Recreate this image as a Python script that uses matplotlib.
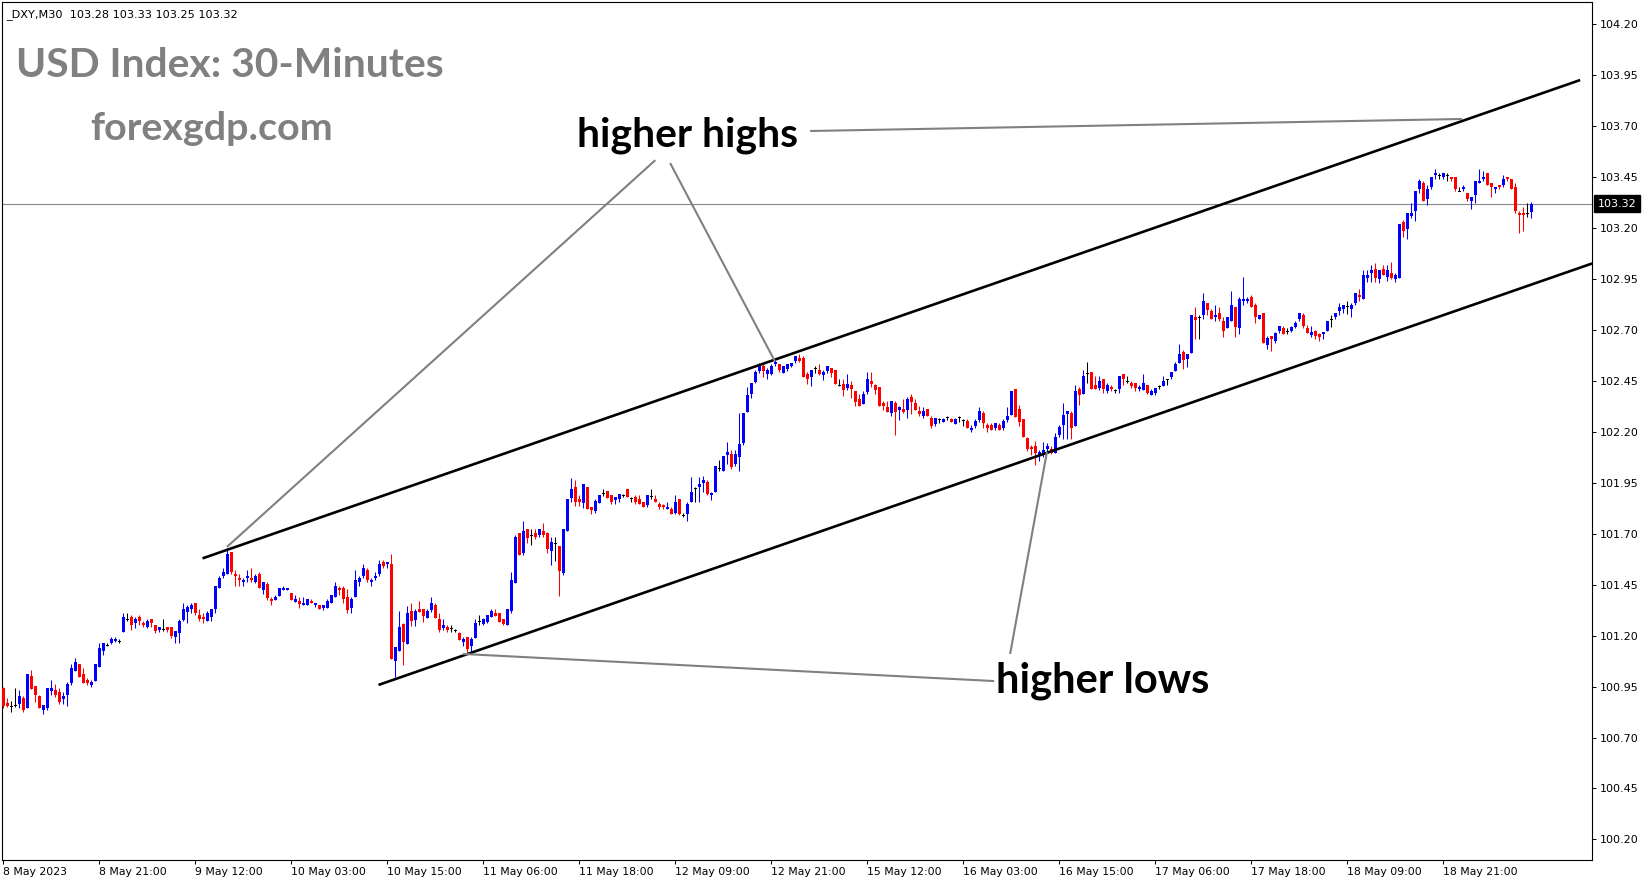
import matplotlib
matplotlib.use("Agg")
import matplotlib.pyplot as plt
from matplotlib.transforms import blended_transform_factory
import numpy as np

# ---------------- data (DXY, M30) ----------------
opens = [
    100.943, 100.868, 100.851, 100.858, 100.864, 100.894, 100.845, 101.002, 100.953, 100.904,
    100.835, 100.845, 100.930, 100.933, 100.923, 100.890, 100.910, 100.969, 101.028, 101.061,
    101.012, 100.982, 100.959, 100.979, 101.048, 101.126, 101.152, 101.162, 101.172, 101.172,
    101.218, 101.280, 101.290, 101.260, 101.290, 101.260, 101.241, 101.280, 101.250, 101.227,
    101.231, 101.241, 101.241, 101.191, 101.211, 101.277, 101.316, 101.329, 101.358, 101.299,
    101.290, 101.270, 101.289, 101.329, 101.433, 101.492, 101.502, 101.610, 101.502, 101.483,
    101.463, 101.483, 101.483, 101.463, 101.502, 101.424, 101.453, 101.378, 101.375, 101.394,
    101.424, 101.424, 101.407, 101.365, 101.368, 101.348, 101.348, 101.368, 101.348, 101.348,
    101.335, 101.335, 101.358, 101.388, 101.433, 101.433, 101.388, 101.335, 101.388, 101.463,
    101.492, 101.522, 101.463, 101.483, 101.502, 101.561, 101.551, 101.551, 101.077, 101.126,
    101.257, 101.159, 101.323, 101.277, 101.329, 101.329, 101.287, 101.326, 101.349, 101.280,
    101.237, 101.244, 101.237, 101.224, 101.215, 101.169, 101.195, 101.149, 101.188, 101.270,
    101.257, 101.267, 101.290, 101.313, 101.313, 101.280, 101.251, 101.319, 101.460, 101.705,
    101.607, 101.722, 101.692, 101.705, 101.692, 101.715, 101.702, 101.617, 101.653, 101.640,
    101.506, 101.712, 101.876, 101.928, 101.869, 101.849, 101.928, 101.830, 101.810, 101.849,
    101.898, 101.908,
    101.888, 101.865, 101.868, 101.888, 101.917, 101.871, 101.878, 101.868, 101.858, 101.839,
    101.881, 101.868, 101.848, 101.839, 101.819, 101.819, 101.803, 101.868, 101.790, 101.799,
    101.858, 101.924, 101.927, 101.950, 101.956, 101.888, 101.904, 102.022, 102.009, 102.087,
    102.091, 102.041, 102.077, 102.143, 102.297, 102.385, 102.444, 102.500, 102.522, 102.486,
    102.486, 102.532, 102.532, 102.490, 102.509, 102.522, 102.549, 102.562, 102.562, 102.483,
    102.470, 102.513, 102.503, 102.480, 102.496, 102.513, 102.503, 102.428, 102.437, 102.414,
    102.428, 102.401, 102.359, 102.336, 102.395, 102.447, 102.428, 102.418, 102.339, 102.320,
    102.290, 102.339, 102.306, 102.310, 102.306, 102.369, 102.339, 102.300, 102.277, 102.310,
    102.270, 102.238, 102.261, 102.248, 102.270, 102.261, 102.238, 102.270, 102.257, 102.251,
    102.208, 102.228, 102.257, 102.290, 102.231, 102.231, 102.221, 102.231, 102.221, 102.257,
    102.284, 102.412, 102.310, 102.261, 102.169, 102.127, 102.130, 102.081, 102.097, 102.117,
    102.117, 102.097, 102.183, 102.232, 102.287, 102.290, 102.228, 102.408, 102.385, 102.484,
    102.493, 102.428, 102.415, 102.457, 102.398, 102.421, 102.402, 102.408, 102.484, 102.448,
    102.438, 102.438, 102.408, 102.405, 102.428, 102.379, 102.389, 102.421, 102.425, 102.457,
    102.467, 102.500, 102.539, 102.592, 102.559, 102.588, 102.765, 102.762, 102.771, 102.830,
    102.791, 102.762, 102.781, 102.742, 102.710, 102.742, 102.814, 102.710, 102.840, 102.840,
    102.860, 102.821, 102.752, 102.781, 102.628, 102.670, 102.647, 102.696, 102.710, 102.690,
    102.696, 102.716, 102.752, 102.772, 102.710, 102.677, 102.696, 102.680, 102.680, 102.696,
    102.752, 102.762, 102.791, 102.801, 102.814, 102.801, 102.831, 102.870, 102.850, 102.955,
    102.978, 103.001, 102.948, 103.001, 102.958, 102.978, 102.952, 102.955, 103.230, 103.197,
    103.259, 103.282, 103.390, 103.419, 103.341, 103.400, 103.459, 103.459, 103.449, 103.459,
    103.449, 103.449, 103.380, 103.390, 103.370, 103.331, 103.361, 103.419, 103.439, 103.469,
    103.419, 103.390, 103.410, 103.410, 103.449, 103.439, 103.400, 103.272, 103.272, 103.272,
    103.280,
]

highs = [
    100.949, 100.894, 100.877, 100.943, 100.933, 100.904, 101.012, 101.031, 100.953, 100.910,
    100.858, 100.943, 100.982, 100.962, 100.943, 100.923, 100.972, 101.061, 101.090, 101.061,
    101.041, 100.992, 100.982, 101.061, 101.162, 101.162, 101.162, 101.191, 101.195, 101.182,
    101.309, 101.309, 101.299, 101.290, 101.299, 101.270, 101.280, 101.280, 101.250, 101.241,
    101.280, 101.241, 101.241, 101.221, 101.280, 101.358, 101.349, 101.358, 101.358, 101.329,
    101.309, 101.319, 101.329, 101.443, 101.492, 101.532, 101.630, 101.610, 101.522, 101.502,
    101.483, 101.522, 101.532, 101.502, 101.512, 101.463, 101.463, 101.388, 101.397, 101.433,
    101.443, 101.433, 101.407, 101.397, 101.388, 101.388, 101.378, 101.378, 101.358, 101.348,
    101.348, 101.378, 101.397, 101.463, 101.443, 101.443, 101.427, 101.388, 101.522, 101.492,
    101.551, 101.532, 101.483, 101.512, 101.571, 101.571, 101.561, 101.600, 101.142, 101.319,
    101.260, 101.345, 101.359, 101.332, 101.368, 101.329, 101.332, 101.391, 101.359, 101.309,
    101.280, 101.254, 101.251, 101.231, 101.218, 101.195, 101.195, 101.195, 101.280, 101.303,
    101.287, 101.300, 101.332, 101.329, 101.313, 101.280, 101.329, 101.512, 101.696, 101.705,
    101.761, 101.722, 101.722, 101.722, 101.725, 101.754, 101.709, 101.682, 101.682, 101.640,
    101.722, 101.872, 101.974, 101.964, 101.889, 101.944, 101.928, 101.830, 101.869, 101.892,
    101.918, 101.908,
    101.888, 101.878, 101.897, 101.897, 101.917, 101.881, 101.888, 101.888, 101.858, 101.888,
    101.917, 101.888, 101.858, 101.848, 101.858, 101.829, 101.888, 101.868, 101.803, 101.858,
    101.976, 101.927, 101.976, 101.983, 101.966, 101.907, 102.032, 102.061, 102.081, 102.149,
    102.110, 102.110, 102.293, 102.293, 102.421, 102.441, 102.503, 102.536, 102.532, 102.513,
    102.532, 102.552, 102.532, 102.522, 102.532, 102.539, 102.572, 102.581, 102.572, 102.493,
    102.503, 102.522, 102.532, 102.503, 102.522, 102.513, 102.503, 102.457, 102.457, 102.483,
    102.447, 102.401, 102.388, 102.398, 102.493, 102.493, 102.437, 102.418, 102.349, 102.349,
    102.349, 102.349, 102.329, 102.359, 102.369, 102.388, 102.359, 102.329, 102.320, 102.310,
    102.280, 102.270, 102.270, 102.270, 102.280, 102.270, 102.270, 102.280, 102.261, 102.261,
    102.231, 102.261, 102.320, 102.300, 102.241, 102.241, 102.241, 102.241, 102.261, 102.320,
    102.402, 102.412, 102.330, 102.261, 102.176, 102.133, 102.156, 102.111, 102.150, 102.143,
    102.130, 102.192, 102.232, 102.340, 102.300, 102.300, 102.428, 102.421, 102.503, 102.542,
    102.493, 102.474, 102.474, 102.457, 102.438, 102.428, 102.408, 102.474, 102.484, 102.474,
    102.448, 102.438, 102.428, 102.484, 102.428, 102.408, 102.415, 102.428, 102.474, 102.457,
    102.493, 102.542, 102.631, 102.601, 102.582, 102.771, 102.814, 102.771, 102.879, 102.830,
    102.801, 102.821, 102.811, 102.762, 102.762, 102.889, 102.814, 102.860, 102.958, 102.860,
    102.870, 102.831, 102.772, 102.781, 102.670, 102.670, 102.690, 102.719, 102.719, 102.710,
    102.719, 102.745, 102.781, 102.781, 102.726, 102.719, 102.700, 102.687, 102.690, 102.742,
    102.772, 102.781, 102.831, 102.821, 102.840, 102.831, 102.880, 102.899, 102.994, 102.994,
    103.017, 103.030, 102.994, 103.017, 103.017, 103.033, 102.978, 103.220, 103.240, 103.272,
    103.325, 103.380, 103.439, 103.429, 103.410, 103.449, 103.488, 103.469, 103.469, 103.469,
    103.449, 103.449, 103.400, 103.410, 103.370, 103.351, 103.429, 103.488, 103.478, 103.469,
    103.419, 103.400, 103.410, 103.459, 103.449, 103.439, 103.419, 103.282, 103.302, 103.321,
    103.330,
]

lows = [
    100.845, 100.851, 100.825, 100.848, 100.845, 100.825, 100.845, 100.940, 100.874, 100.845,
    100.815, 100.835, 100.910, 100.900, 100.864, 100.864, 100.854, 100.959, 101.028, 100.998,
    100.969, 100.959, 100.949, 100.979, 101.048, 101.106, 101.149, 101.159, 101.169, 101.162,
    101.218, 101.270, 101.227, 101.237, 101.250, 101.241, 101.237, 101.241, 101.211, 101.218,
    101.221, 101.218, 101.188, 101.162, 101.162, 101.270, 101.260, 101.309, 101.299, 101.270,
    101.260, 101.270, 101.270, 101.309, 101.433, 101.483, 101.502, 101.502, 101.443, 101.443,
    101.443, 101.463, 101.463, 101.456, 101.433, 101.404, 101.375, 101.348, 101.375, 101.394,
    101.424, 101.424, 101.375, 101.365, 101.335, 101.348, 101.348, 101.358, 101.339, 101.329,
    101.325, 101.335, 101.358, 101.388, 101.397, 101.358, 101.309, 101.309, 101.388, 101.443,
    101.483, 101.463, 101.443, 101.473, 101.492, 101.532, 101.532, 101.087, 100.995, 101.126,
    101.058, 101.159, 101.247, 101.247, 101.316, 101.267, 101.287, 101.316, 101.287, 101.218,
    101.228, 101.218, 101.218, 101.218, 101.179, 101.149, 101.120, 101.120, 101.188, 101.251,
    101.251, 101.260, 101.290, 101.296, 101.267, 101.251, 101.251, 101.309, 101.460, 101.597,
    101.597, 101.653, 101.646, 101.673, 101.686, 101.686, 101.607, 101.548, 101.568, 101.395,
    101.496, 101.712, 101.856, 101.836, 101.836, 101.826, 101.823, 101.797, 101.804, 101.849,
    101.885, 101.876,
    101.845, 101.848, 101.858, 101.881, 101.878, 101.858, 101.848, 101.848, 101.829, 101.829,
    101.868, 101.858, 101.819, 101.819, 101.819, 101.799, 101.799, 101.790, 101.780, 101.760,
    101.858, 101.858, 101.858, 101.904, 101.888, 101.865, 101.904, 102.009, 102.009, 102.041,
    102.019, 102.032, 102.009, 102.136, 102.297, 102.365, 102.441, 102.490, 102.470, 102.457,
    102.480, 102.522, 102.493, 102.490, 102.500, 102.519, 102.539, 102.542, 102.470, 102.434,
    102.424, 102.490, 102.480, 102.454, 102.490, 102.470, 102.434, 102.424, 102.375, 102.405,
    102.365, 102.326, 102.326, 102.336, 102.385, 102.418, 102.385, 102.326, 102.306, 102.297,
    102.280, 102.185, 102.257, 102.290, 102.267, 102.287, 102.306, 102.277, 102.267, 102.280,
    102.218, 102.228, 102.241, 102.248, 102.257, 102.248, 102.238, 102.248, 102.228, 102.218,
    102.199, 102.221, 102.248, 102.218, 102.199, 102.208, 102.208, 102.208, 102.208, 102.248,
    102.284, 102.271, 102.228, 102.176, 102.107, 102.088, 102.039, 102.058, 102.078, 102.097,
    102.091, 102.097, 102.173, 102.166, 102.166, 102.166, 102.228, 102.330, 102.385, 102.438,
    102.412, 102.408, 102.405, 102.389, 102.389, 102.398, 102.389, 102.389, 102.428, 102.438,
    102.415, 102.398, 102.398, 102.405, 102.385, 102.379, 102.382, 102.408, 102.425, 102.428,
    102.457, 102.500, 102.536, 102.510, 102.520, 102.588, 102.657, 102.657, 102.752, 102.771,
    102.752, 102.742, 102.742, 102.667, 102.710, 102.742, 102.667, 102.680, 102.821, 102.831,
    102.811, 102.732, 102.752, 102.638, 102.608, 102.598, 102.638, 102.687, 102.680, 102.680,
    102.690, 102.710, 102.742, 102.710, 102.687, 102.664, 102.657, 102.647, 102.657, 102.696,
    102.716, 102.752, 102.772, 102.781, 102.778, 102.762, 102.821, 102.840, 102.850, 102.935,
    102.935, 102.935, 102.929, 102.968, 102.939, 102.948, 102.935, 102.955, 103.158, 103.148,
    103.249, 103.236, 103.370, 103.331, 103.311, 103.390, 103.439, 103.439, 103.439, 103.429,
    103.429, 103.380, 103.380, 103.380, 103.331, 103.292, 103.321, 103.419, 103.429, 103.410,
    103.351, 103.370, 103.390, 103.400, 103.429, 103.390, 103.272, 103.177, 103.187, 103.253,
    103.250,
]

closes = [
    100.854, 100.854, 100.851, 100.858, 100.904, 100.835, 101.012, 100.940, 100.910, 100.845,
    100.858, 100.943, 100.943, 100.910, 100.874, 100.904, 100.962, 101.041, 101.070, 100.998,
    100.969, 100.969, 100.972, 101.061, 101.139, 101.162, 101.152, 101.182, 101.185, 101.172,
    101.290, 101.280, 101.250, 101.280, 101.270, 101.250, 101.270, 101.260, 101.221, 101.241,
    101.231, 101.227, 101.198, 101.221, 101.270, 101.329, 101.339, 101.349, 101.309, 101.280,
    101.280, 101.309, 101.329, 101.443, 101.483, 101.512, 101.600, 101.512, 101.492, 101.473,
    101.473, 101.492, 101.473, 101.492, 101.433, 101.463, 101.384, 101.368, 101.388, 101.433,
    101.433, 101.433, 101.375, 101.378, 101.355, 101.361, 101.378, 101.358, 101.358, 101.329,
    101.348, 101.368, 101.397, 101.443, 101.424, 101.378, 101.325, 101.378, 101.473, 101.483,
    101.532, 101.473, 101.473, 101.492, 101.551, 101.541, 101.561, 101.087, 101.142, 101.240,
    101.170, 101.309, 101.270, 101.323, 101.316, 101.296, 101.323, 101.359, 101.287, 101.228,
    101.254, 101.228, 101.237, 101.224, 101.179, 101.185, 101.136, 101.185, 101.264, 101.270,
    101.280, 101.300, 101.323, 101.296, 101.267, 101.257, 101.329, 101.473, 101.686, 101.597,
    101.715, 101.679, 101.692, 101.682, 101.722, 101.692, 101.627, 101.660, 101.653, 101.519,
    101.722, 101.872, 101.921, 101.856, 101.856, 101.944, 101.823, 101.817, 101.862, 101.892,
    101.898, 101.876,
    101.858, 101.878, 101.897, 101.888, 101.878, 101.871, 101.858, 101.848, 101.829, 101.888,
    101.881, 101.858, 101.829, 101.829, 101.829, 101.799, 101.858, 101.799, 101.790, 101.848,
    101.907, 101.924, 101.943, 101.963, 101.897, 101.901, 102.032, 102.022, 102.081, 102.100,
    102.028, 102.091, 102.140, 102.293, 102.382, 102.441, 102.493, 102.522, 102.500, 102.503,
    102.522, 102.542, 102.503, 102.522, 102.532, 102.536, 102.572, 102.549, 102.470, 102.457,
    102.503, 102.513, 102.486, 102.493, 102.522, 102.490, 102.434, 102.428, 102.405, 102.437,
    102.408, 102.346, 102.326, 102.388, 102.457, 102.434, 102.405, 102.326, 102.326, 102.297,
    102.349, 102.297, 102.320, 102.297, 102.359, 102.346, 102.306, 102.287, 102.300, 102.280,
    102.228, 102.270, 102.261, 102.261, 102.270, 102.248, 102.261, 102.270, 102.257, 102.218,
    102.221, 102.251, 102.300, 102.241, 102.218, 102.208, 102.241, 102.208, 102.251, 102.280,
    102.402, 102.271, 102.248, 102.176, 102.117, 102.117, 102.097, 102.101, 102.111, 102.130,
    102.097, 102.176, 102.222, 102.281, 102.300, 102.219, 102.398, 102.379, 102.474, 102.484,
    102.412, 102.408, 102.448, 102.408, 102.428, 102.408, 102.402, 102.474, 102.457, 102.448,
    102.425, 102.415, 102.421, 102.438, 102.389, 102.402, 102.415, 102.421, 102.451, 102.457,
    102.493, 102.533, 102.582, 102.552, 102.582, 102.771, 102.749, 102.762, 102.840, 102.798,
    102.752, 102.772, 102.752, 102.696, 102.762, 102.821, 102.716, 102.850, 102.850, 102.850,
    102.811, 102.762, 102.772, 102.638, 102.660, 102.657, 102.687, 102.719, 102.680, 102.690,
    102.713, 102.736, 102.781, 102.719, 102.687, 102.690, 102.670, 102.667, 102.690, 102.742,
    102.752, 102.781, 102.811, 102.821, 102.814, 102.824, 102.880, 102.860, 102.968, 102.968,
    102.994, 102.955, 102.994, 102.968, 102.994, 102.955, 102.968, 103.220, 103.187, 103.272,
    103.275, 103.380, 103.429, 103.331, 103.390, 103.449, 103.469, 103.459, 103.469, 103.459,
    103.439, 103.390, 103.380, 103.400, 103.341, 103.351, 103.429, 103.429, 103.449, 103.410,
    103.400, 103.400, 103.400, 103.439, 103.439, 103.390, 103.282, 103.262, 103.262, 103.272,
    103.320,
]

time_labels = ["8 May 2023", "8 May 21:00", "9 May 12:00", "10 May 03:00", "10 May 15:00",
               "11 May 06:00", "11 May 18:00", "12 May 09:00", "12 May 21:00", "15 May 12:00",
               "16 May 03:00", "16 May 15:00", "17 May 06:00", "17 May 18:00", "18 May 09:00",
               "18 May 21:00"]
time_label_bars = [0, 24, 48, 72, 96, 120, 144, 168, 192, 216, 240, 264, 288, 312, 336, 360]
price_ticks = [100.20, 100.45, 100.70, 100.95, 101.20, 101.45, 101.70, 101.95,
               102.20, 102.45, 102.70, 102.95, 103.20, 103.45, 103.70, 103.95, 104.20]
last_price = 103.32
header_text = "_DXY,M30  103.28 103.33 103.25 103.32"

# trend-channel objects (bar index, price)
upper_channel_x = [49.8, 394.2]
upper_channel_y = [101.579, 103.926]
lower_channel_x = [93.8, 397.2]
lower_channel_y = [100.958, 103.026]

# annotation pointer lines (bar index, price)
pointer_lines = [
    ([201.7, 364.7], [103.676, 103.735]),
    ([163.0, 55.9], [103.533, 101.635]),
    ([166.7, 192.9], [103.519, 102.546]),
    ([247.7, 114.9], [100.977, 101.110]),
    ([251.7, 260.9], [101.110, 102.101]),
]

# ---------------- drawing ----------------
W, H = 1649, 884
fig = plt.figure(figsize=(W / 100, H / 100), dpi=100, facecolor="white")
ax = fig.add_axes([2 / W, (H - 860) / H, 1590 / W, 858 / H])
ax.set_facecolor("white")
ax.set_xlim(-0.33, 397.17)
ax.set_ylim(100.099, 104.309)

o = np.array(opens); h = np.array(highs); l = np.array(lows); c = np.array(closes)
x = np.arange(len(o))
cols = np.where(c > o + 1e-9, "#0000ff", np.where(c < o - 1e-9, "#ff0000", "#000000"))

ax.axhline(last_price, color="#8a8a8a", lw=0.8, zorder=1)
ax.vlines(x, l, h, colors=cols, lw=0.75, zorder=2)
minh = 0.005
body_h = np.abs(c - o)
bottoms = np.where(body_h < minh, (o + c) / 2 - minh / 2, np.minimum(o, c))
heights = np.maximum(body_h, minh)
ax.bar(x, heights, bottom=bottoms, width=0.75, color=cols, lw=0, zorder=3)

ax.plot(upper_channel_x, upper_channel_y, color="black", lw=1.9, zorder=4,
        solid_capstyle="butt")
ax.plot(lower_channel_x, lower_channel_y, color="black", lw=1.9, zorder=4,
        solid_capstyle="butt")
for px, py in pointer_lines:
    ax.plot(px, py, color="#808080", lw=1.5, zorder=5, solid_capstyle="butt")

# axes
for s in ax.spines.values():
    s.set_linewidth(0.8)
    s.set_color("black")
ax.yaxis.tick_right()
ax.set_yticks(price_ticks)
ax.set_yticklabels([f"{v:.2f}" for v in price_ticks])
ax.tick_params(axis="y", direction="out", length=3, width=0.7, pad=2.5,
               labelsize=8, colors="black")
ax.set_xticks(time_label_bars)
ax.set_xticklabels(time_labels, ha="left")
ax.tick_params(axis="x", direction="out", length=3, width=0.7, pad=2,
               labelsize=7.8, colors="black")

trans = blended_transform_factory(ax.transAxes, ax.transData)
ax.annotate(f"{last_price:.2f}", xy=(1.0, last_price), xycoords=trans,
            xytext=(6, 0), textcoords="offset pixels", ha="left", va="center",
            color="white", fontsize=8, annotation_clip=False,
            bbox=dict(boxstyle="square,pad=0.33", fc="black", ec="black"))

renderer = fig.canvas.get_renderer()


def fit_text(s, left_px, base_px, target_w, **kw):
    t = fig.text(left_px / W, 1 - base_px / H, s, ha="left", va="baseline",
                 fontsize=30, **kw)
    w = t.get_window_extent(renderer).width
    t.set_fontsize(30 * target_w / w)
    return t


big = dict(family=["Lato", "DejaVu Sans"], fontweight="bold")
fit_text("USD Index: 30-Minutes", 16, 77, 428, color="#808080", **big)
fit_text("forexgdp.com", 90, 140, 242, color="#808080", **big)
fit_text("higher highs", 577, 147, 221, color="black", **big)
fit_text("higher lows", 996, 693, 213, color="black", **big)
fit_text(header_text, 6, 17, 233, color="black", family="DejaVu Sans")

fig.savefig("out.png", dpi=100, facecolor="white")
